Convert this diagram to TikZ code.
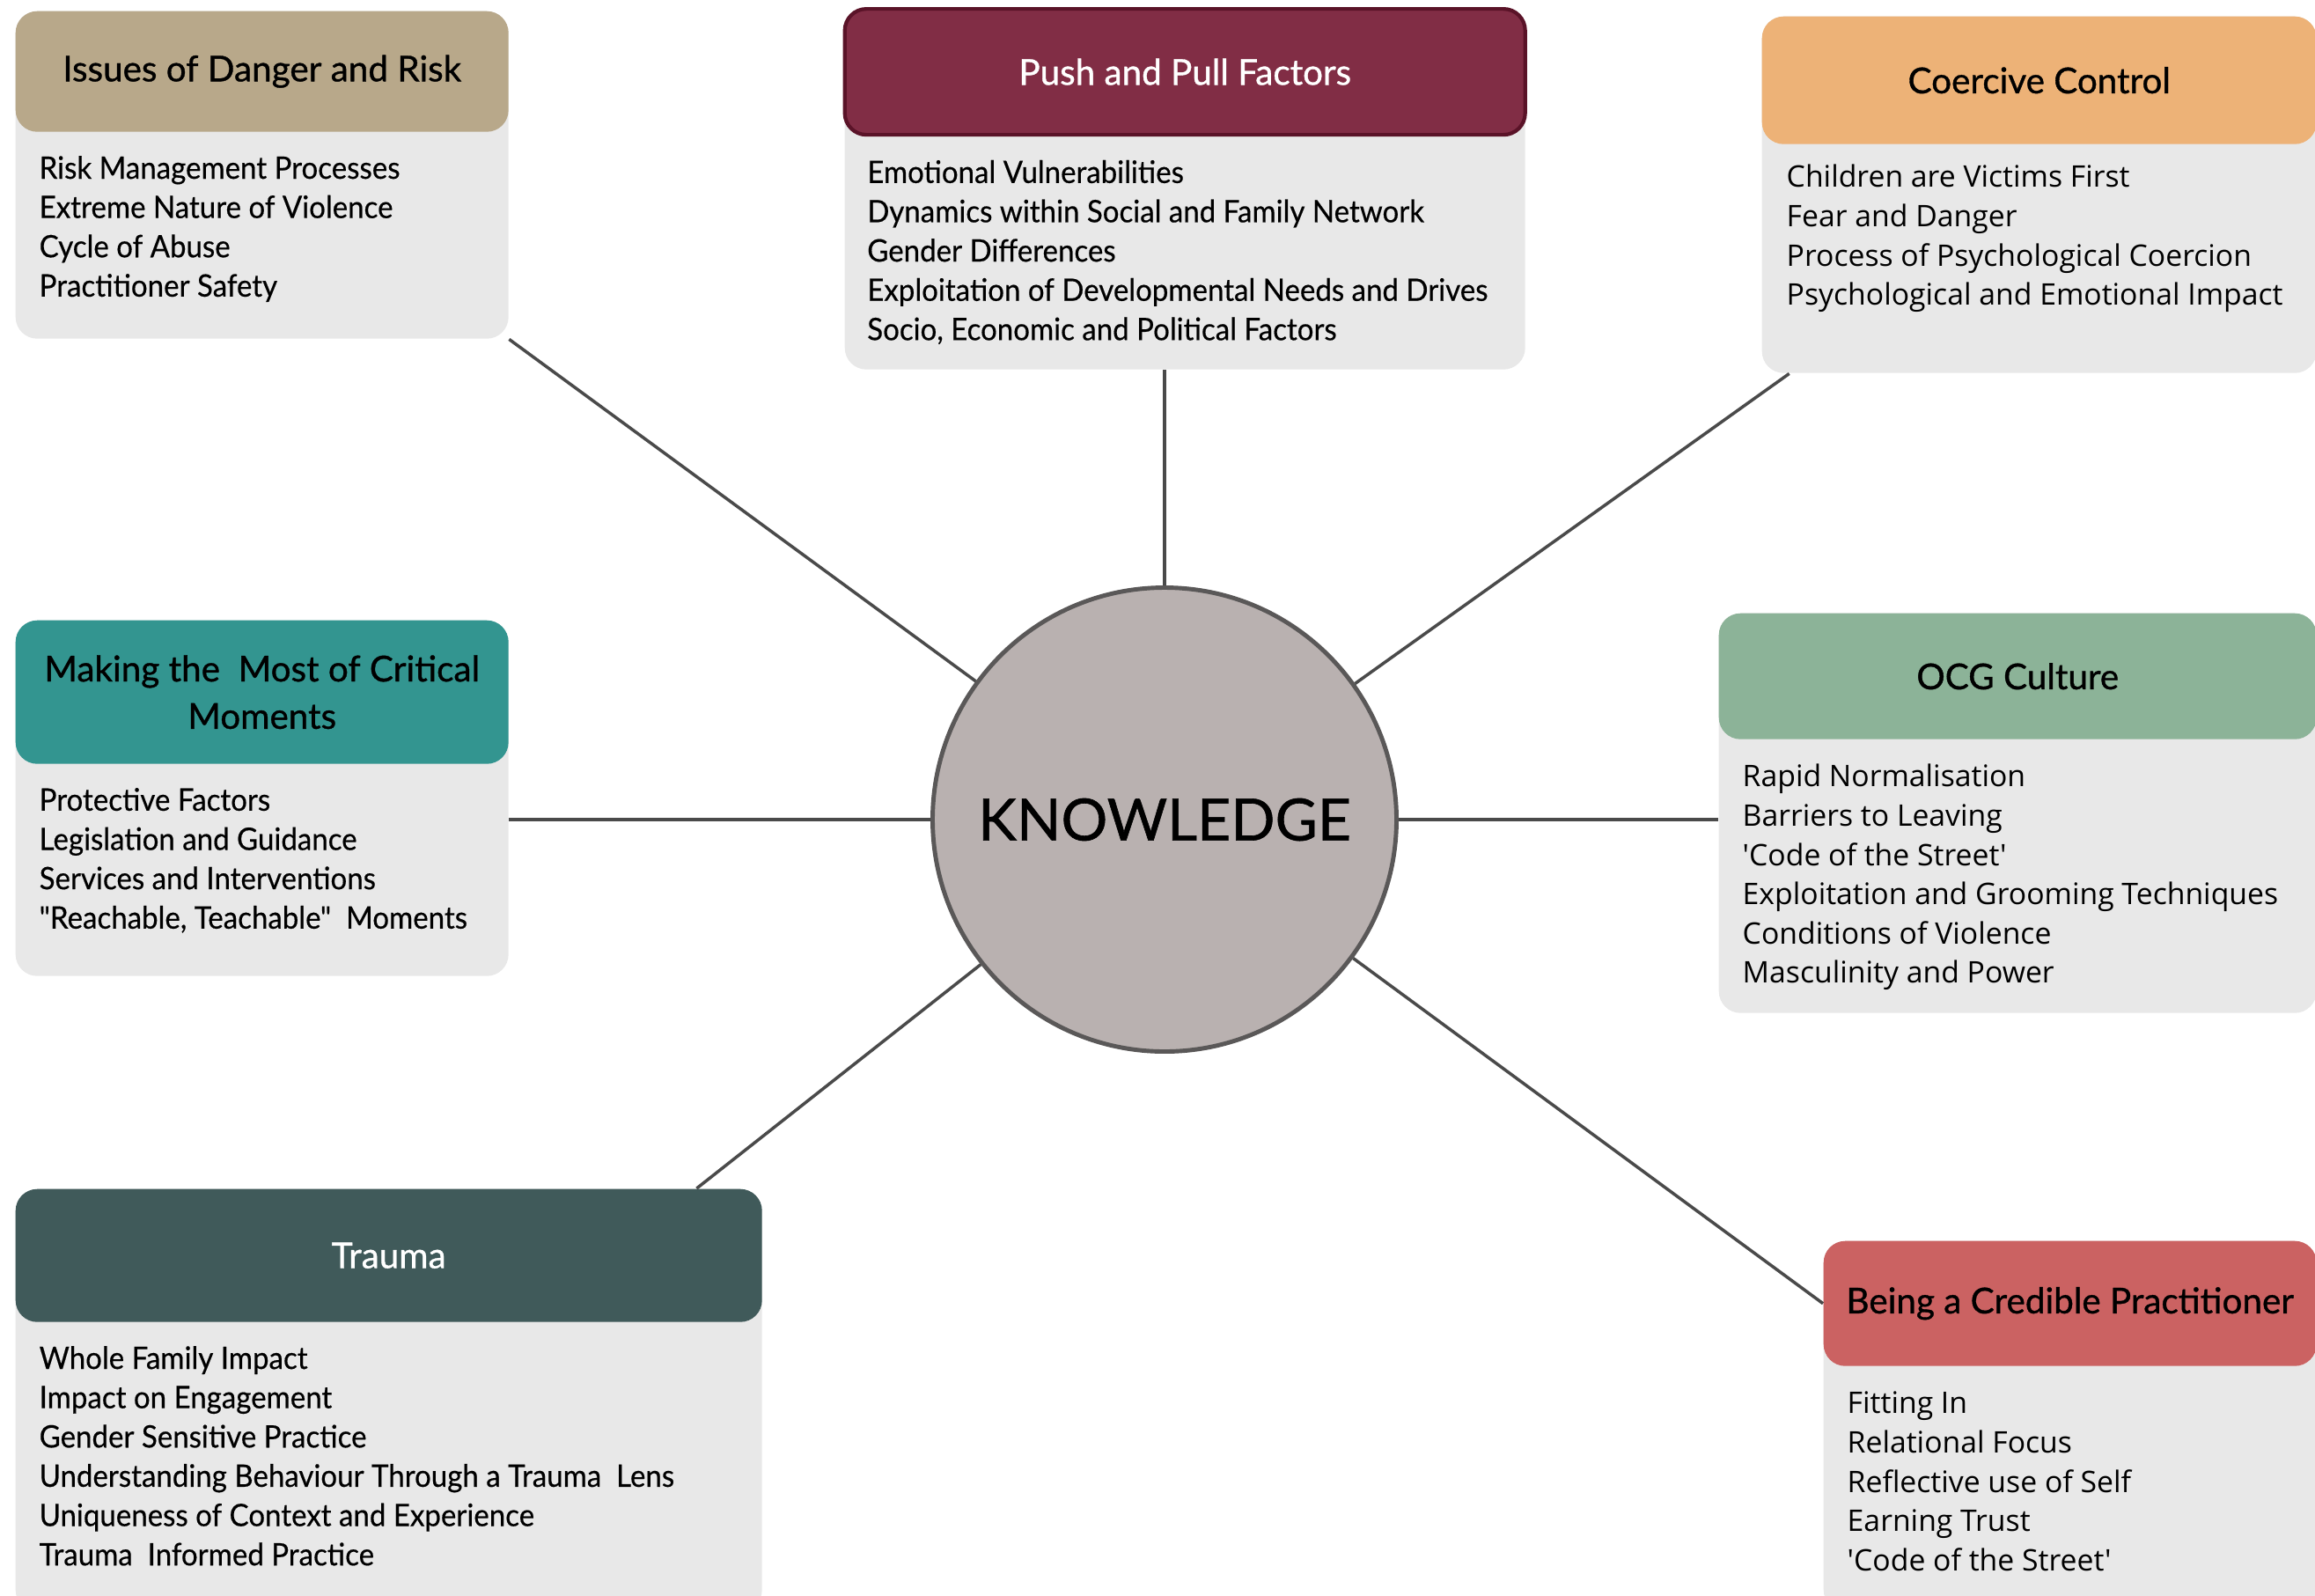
\documentclass[tikz,border=0pt]{standalone}
\usepackage{fontspec}
\setmainfont{Lato}[Ligatures=TeXOff]
\newfontfamily\latolist{Lato}[Ligatures=TeXOff, FakeStretch=0.94, FakeBold=0.4]
\newfontfamily\latohead{Lato}[Ligatures=TeXOff, FakeBold=0.9]
\newfontfamily\opensans{Open Sans}[Ligatures=TeXOff]
\usetikzlibrary{positioning}

\definecolor{panelgray}{HTML}{E8E8E8}
\definecolor{dangerc}{HTML}{B8A88A}
\definecolor{pushc}{HTML}{812D45}
\definecolor{pushedge}{HTML}{5A1328}
\definecolor{coercivec}{HTML}{EDB277}
\definecolor{criticalc}{HTML}{339590}
\definecolor{ocgc}{HTML}{8CB398}
\definecolor{traumac}{HTML}{405A5A}
\definecolor{crediblec}{HTML}{CB6262}
\definecolor{hubfill}{HTML}{B9B1B0}
\definecolor{hubedge}{HTML}{5A5858}
\definecolor{spokec}{HTML}{4A4A4A}

\tikzset{
  panel/.style={
    rectangle, rounded corners=7pt, fill=panelgray, anchor=north west, inner sep=0pt
  },
  head/.style={
    rectangle, rounded corners=7pt, anchor=north, inner sep=0pt, align=center,
    font=\latohead\fontsize{11.5}{15.3}\selectfont
  },
  items/.style={
    anchor=north west, align=left, inner sep=0pt, font=\latolist\fontsize{10}{12.7}\selectfont
  },
  sansitems/.style={
    items, font=\opensans\fontsize{9.6}{12.7}\selectfont
  },
  hub/.style={
    circle, draw=hubedge, line width=1.4pt, fill=hubfill, minimum size=5.27cm,
    inner sep=0pt, font=\latohead\fontsize{18.8}{22}\selectfont
  },
  spoke/.style={draw=spokec, line width=1pt}
}

\begin{document}
\begin{tikzpicture}
\useasboundingbox (0,0) rectangle (26.3,-18.12);

\node[hub] (hub) at (13.23,-9.31) {KNOWLEDGE};

% top row
\node[panel, minimum width=5.6cm, minimum height=3.72cm] (dangerbox) at (0.17,-0.12) {};
\node[head, fill=dangerc, minimum width=5.6cm, minimum height=1.37cm] (dangerhead) at (dangerbox.north) {Issues of Danger and Risk};
\node[items, below right=0.26cm and 0.27cm of dangerhead.south west] (dangerlist) {Risk Management Processes\\Extreme Nature of Violence\\Cycle of Abuse\\Practitioner Safety};

\node[panel, minimum width=7.73cm, minimum height=4.11cm] (pushbox) at (9.59,-0.08) {};
\node[head, fill=pushc, draw=pushedge, line width=1.2pt, text=white, minimum width=7.73cm, minimum height=1.43cm] (pushhead) at (pushbox.north) {Push and Pull Factors};
\node[items, below right=0.26cm and 0.27cm of pushhead.south west] (pushlist) {Emotional Vulnerabilities\\Dynamics within Social and Family Network\\Gender Differences\\Exploitation of Developmental Needs and Drives\\Socio, Economic and Political Factors};

\node[panel, minimum width=6.3cm, minimum height=4.05cm] (coercivebox) at (20.01,-0.18) {};
\node[head, fill=coercivec, minimum width=6.3cm, minimum height=1.45cm] (coercivehead) at (coercivebox.north) {Coercive Control};
\node[sansitems, below right=0.22cm and 0.28cm of coercivehead.south west] (coercivelist) {Children are Victims First\\Fear and Danger\\Process of Psychological Coercion\\Psychological and Emotional Impact};

% middle row
\node[panel, minimum width=5.6cm, minimum height=4.04cm] (criticalbox) at (0.17,-7.04) {};
\node[head, fill=criticalc, minimum width=5.6cm, minimum height=1.63cm] (criticalhead) at (criticalbox.north) {Making the\ \ Most of Critical\\Moments};
\node[items, below right=0.26cm and 0.27cm of criticalhead.south west] (criticallist) {Protective Factors\\Legislation and Guidance\\Services and Interventions\\"Reachable, Teachable"\ \ Moments};

\node[panel, minimum width=6.79cm, minimum height=4.54cm] (ocgbox) at (19.52,-6.96) {};
\node[head, fill=ocgc, minimum width=6.79cm, minimum height=1.43cm] (ocghead) at (ocgbox.north) {OCG Culture};
\node[sansitems, below right=0.27cm and 0.27cm of ocghead.south west] (ocglist) {Rapid Normalisation\\Barriers to Leaving\\'Code of the Street'\\Exploitation and Grooming Techniques\\Conditions of Violence\\Masculinity and Power};

% bottom row
\node[panel, minimum width=8.48cm, minimum height=4.8cm] (traumabox) at (0.17,-13.5) {};
\node[head, fill=traumac, text=white, minimum width=8.48cm, minimum height=1.51cm] (traumahead) at (traumabox.north) {Trauma};
\node[items, below right=0.26cm and 0.27cm of traumahead.south west] (traumalist) {Whole Family Impact\\Impact on Engagement\\Gender Sensitive Practice\\Understanding Behaviour Through a Trauma\ \ Lens\\Uniqueness of Context and Experience\\Trauma\ \ Informed Practice};

\node[panel, minimum width=5.6cm, minimum height=4.21cm] (crediblebox) at (20.71,-14.09) {};
\node[head, fill=crediblec, minimum width=5.6cm, minimum height=1.42cm] (crediblehead) at (crediblebox.north) {Being a Credible Practitioner};
\node[sansitems, below right=0.28cm and 0.27cm of crediblehead.south west] (crediblelist) {Fitting In\\Relational Focus\\Reflective use of Self\\Earning Trust\\'Code of the Street'};

% spokes
\draw[spoke] (dangerbox.south east) -- (hub);
\draw[spoke] (hub) -- (hub |- pushbox.south);
\draw[spoke] (hub) -- (coercivebox);
\draw[spoke] (hub) -- (hub -| criticalbox.east);
\draw[spoke] (hub) -- (hub -| ocgbox.west);
\draw[spoke] (hub) -- ([xshift=-0.75cm]traumabox.north east);
\draw[spoke] (hub) -- (crediblehead.west);
\end{tikzpicture}
\end{document}
